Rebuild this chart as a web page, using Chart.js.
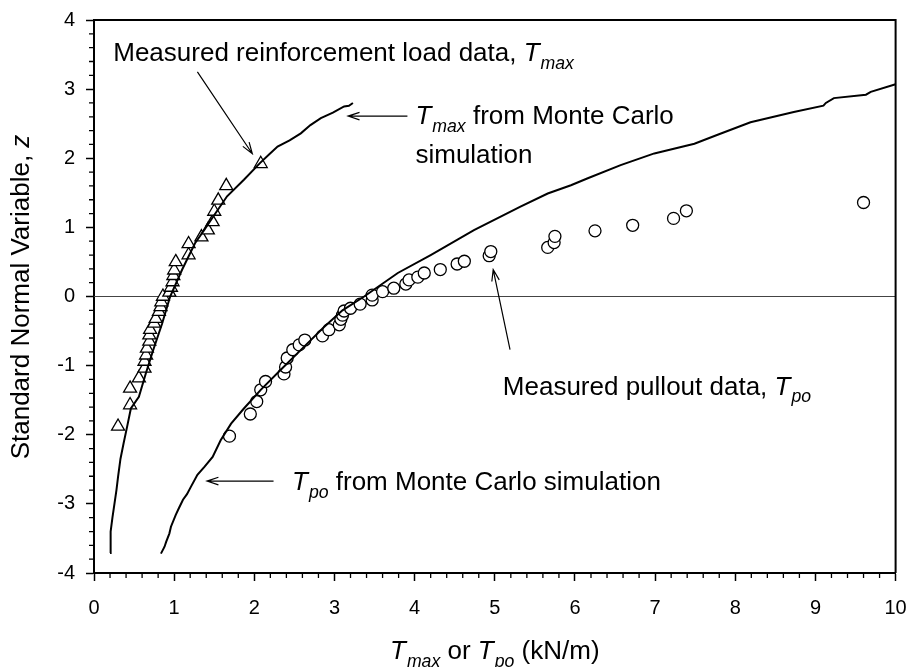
<!DOCTYPE html>
<html>
<head>
<meta charset="utf-8">
<script src="https://cdn.jsdelivr.net/npm/chart.js@4"></script>
<style>
  html, body { margin: 0; padding: 0; background: #fff; }
</style>
</head>
<body>
<canvas id="chart" width="909" height="667"></canvas>
<script>
// Data

// measured reinforcement loads (triangles)
const tmaxMeasX = [0.30, 0.45, 0.45, 0.56, 0.63, 0.63, 0.65, 0.66, 0.69, 0.69, 0.70, 0.75, 0.77, 0.81, 0.83, 0.84,
  0.86, 0.94, 0.96, 0.98, 0.99, 1.00, 1.02, 1.18, 1.18, 1.34, 1.42, 1.48, 1.50, 1.55, 1.65, 2.08];
const tmaxMeasZ = [-1.88, -1.57, -1.33, -1.18, -1.04, -0.94, -0.85, -0.75, -0.65, -0.56, -0.48, -0.39, -0.32, -0.22, -0.15, -0.08,
  0.00, 0.06, 0.13, 0.21, 0.30, 0.38, 0.50, 0.60, 0.76, 0.86, 0.96, 1.08, 1.23, 1.39, 1.60, 1.92];

// measured pullout (circles)
const tpoMeasX = [1.69, 1.95, 2.03, 2.08, 2.14, 2.37, 2.39, 2.41, 2.48, 2.56, 2.63, 2.85, 2.93, 3.06, 3.08, 3.10, 3.12, 3.20,
  3.32, 3.47, 3.47, 3.60, 3.74, 3.89, 3.93, 4.04, 4.12, 4.32, 4.53, 4.62, 4.93, 4.95, 5.66, 5.74, 5.75, 6.25, 6.72, 7.23, 7.39, 9.60];
const tpoMeasZ = [-2.02, -1.70, -1.52, -1.35, -1.23, -1.12, -1.02, -0.89, -0.77, -0.70, -0.63, -0.57, -0.48, -0.41, -0.33, -0.27, -0.21, -0.17,
  -0.11, -0.05, 0.02, 0.07, 0.12, 0.18, 0.24, 0.28, 0.34, 0.39, 0.47, 0.51, 0.59, 0.65, 0.71, 0.78, 0.87, 0.95, 1.03, 1.13, 1.24, 1.36];

// Monte Carlo Tmax curve
const tmaxSimX = [0.20, 0.205, 0.21, 0.23, 0.25, 0.28, 0.30, 0.33, 0.37, 0.41, 0.46, 0.56, 0.65, 0.74, 0.85, 0.95,
  1.10, 1.26, 1.38, 1.49, 1.66, 1.87, 2.07, 2.18, 2.29, 2.44, 2.58, 2.70, 2.83, 2.98, 3.12, 3.18, 3.23];
const tmaxSimZ = [-3.71, -3.55, -3.40, -3.20, -3.04, -2.80, -2.61, -2.35, -2.12, -1.90, -1.62, -1.45, -1.10, -0.77, -0.39, 0.00,
  0.39, 0.77, 0.97, 1.16, 1.45, 1.69, 1.93, 2.05, 2.17, 2.26, 2.36, 2.48, 2.58, 2.66, 2.75, 2.76, 2.80];

// Monte Carlo Tpo curve
const tpoSimX = [0.835, 0.88, 0.90, 0.94, 0.96, 1.02, 1.06, 1.11, 1.16, 1.21, 1.29, 1.38, 1.48, 1.58, 1.71, 1.87, 2.08,
  2.33, 2.60, 2.87, 3.10, 3.37, 3.79, 4.20, 4.74, 5.32, 5.66, 5.95, 6.16, 6.57, 6.99, 7.49, 7.78, 8.19, 8.73, 9.10,
  9.13, 9.23, 9.63, 9.69, 10.0];
const tpoSimZ = [-3.72, -3.62, -3.55, -3.43, -3.33, -3.16, -3.06, -2.94, -2.86, -2.75, -2.58, -2.46, -2.32, -2.08, -1.84, -1.62, -1.35,
  -1.06, -0.75, -0.44, -0.20, 0.00, 0.34, 0.60, 0.96, 1.30, 1.49, 1.61, 1.71, 1.90, 2.07, 2.21, 2.34, 2.52, 2.67, 2.76,
  2.80, 2.87, 2.92, 2.96, 3.07];

const xRange = [0, 10];
const zRange = [-4, 4];

// Setup

const FONT = '"Liberation Sans", Arial, sans-serif';
const TEXT_SIZE = 26;

function pts(xs, zs) {
  return xs.map((x, i) => ({ x: x, y: zs[i] }));
}

// rich text: parts = [{t, it, sub}]
function richWidth(ctx, parts, size) {
  let w = 0;
  parts.forEach(p => {
    const s = p.sub ? size * 0.68 : size;
    ctx.font = (p.it ? 'italic ' : '') + s + 'px ' + FONT;
    w += ctx.measureText(p.t).width + (p.it && !p.sub ? 1 : 0);
  });
  return w;
}

function drawRich(ctx, x, y, parts, size) {
  let cx = x;
  parts.forEach(p => {
    const s = p.sub ? size * 0.68 : size;
    ctx.font = (p.it ? 'italic ' : '') + s + 'px ' + FONT;
    ctx.fillText(p.t, cx, y + (p.sub ? size * 0.3 : 0));
    cx += ctx.measureText(p.t).width + (p.it && !p.sub ? 1 : 0);
  });
}

function arrow(ctx, x1, y1, x2, y2) {
  const a = Math.atan2(y2 - y1, x2 - x1);
  const h = 12, s = 0.32;
  ctx.beginPath();
  ctx.moveTo(x1, y1);
  ctx.lineTo(x2, y2);
  ctx.moveTo(x2 - h * Math.cos(a - s), y2 - h * Math.sin(a - s));
  ctx.lineTo(x2, y2);
  ctx.lineTo(x2 - h * Math.cos(a + s), y2 - h * Math.sin(a + s));
  ctx.stroke();
}

// annotations, anchored in data units
const notes = [
  { x: 0.24, z: 3.40, parts: [{ t: 'Measured reinforcement load data, ' }, { t: 'T', it: true }, { t: 'max', it: true, sub: true }] },
  { x: 4.01, z: 2.49, parts: [{ t: 'T', it: true }, { t: 'max', it: true, sub: true }, { t: ' from Monte Carlo' }] },
  { x: 4.01, z: 1.93, parts: [{ t: 'simulation' }] },
  { x: 2.47, z: -2.80, parts: [{ t: 'T', it: true }, { t: 'po', it: true, sub: true }, { t: ' from Monte Carlo simulation' }] },
  { x: 5.10, z: -1.42, parts: [{ t: 'Measured pullout data, ' }, { t: 'T', it: true }, { t: 'po', it: true, sub: true }] },
];
const arrows = [
  [1.29, 3.25, 1.975, 2.065],
  [3.91, 2.61, 3.17, 2.61],
  [2.24, -2.67, 1.41, -2.67],
  [5.19, -0.77, 4.98, 0.39],
];

const extras = {
  id: 'extras',
  afterDraw(chart) {
    const ctx = chart.ctx;
    const a = chart.chartArea;
    const xs = chart.scales.x, ys = chart.scales.y;
    ctx.save();
    ctx.strokeStyle = '#000';
    ctx.fillStyle = '#000';

    // top and right frame
    ctx.lineWidth = 2;
    ctx.beginPath();
    ctx.moveTo(a.left, a.top);
    ctx.lineTo(a.right, a.top);
    ctx.lineTo(a.right, a.bottom);
    ctx.stroke();

    // minor ticks
    ctx.lineWidth = 1.3;
    ctx.beginPath();
    for (let i = 1; i < 50; i++) {
      if (i % 5 === 0) continue;
      const px = xs.getPixelForValue(i * 0.2);
      ctx.moveTo(px, a.bottom);
      ctx.lineTo(px, a.bottom + 5);
    }
    for (let i = 1; i < 40; i++) {
      if (i % 5 === 0) continue;
      const py = ys.getPixelForValue(-4 + i * 0.2);
      ctx.moveTo(a.left, py);
      ctx.lineTo(a.left - 5, py);
    }
    ctx.stroke();

    // arrows
    ctx.lineWidth = 1.2;
    arrows.forEach(r => {
      arrow(ctx, xs.getPixelForValue(r[0]), ys.getPixelForValue(r[1]),
        xs.getPixelForValue(r[2]), ys.getPixelForValue(r[3]));
    });

    // annotation text
    ctx.textAlign = 'left';
    ctx.textBaseline = 'alphabetic';
    notes.forEach(n => {
      drawRich(ctx, xs.getPixelForValue(n.x), ys.getPixelForValue(n.z), n.parts, TEXT_SIZE);
    });

    // x axis title
    const xt = [{ t: 'T', it: true }, { t: 'max', it: true, sub: true }, { t: ' or ' }, { t: 'T', it: true }, { t: 'po', it: true, sub: true }, { t: ' (kN/m)' }];
    const xw = richWidth(ctx, xt, TEXT_SIZE);
    drawRich(ctx, (a.left + a.right) / 2 - xw / 2, 659, xt, TEXT_SIZE);

    // y axis title
    const yt = [{ t: 'Standard Normal Variable, ' }, { t: 'z', it: true }];
    const yw = richWidth(ctx, yt, TEXT_SIZE);
    ctx.translate(29, (a.top + a.bottom) / 2);
    ctx.rotate(-Math.PI / 2);
    drawRich(ctx, -yw / 2, 0, yt, TEXT_SIZE);
    ctx.restore();
  }
};

// Configuration

const tickFont = { family: FONT, size: 20 };

const config = {
  type: 'scatter',
  data: {
    datasets: [
      {
        label: 'zero',
        data: [{ x: xRange[0], y: 0 }, { x: xRange[1], y: 0 }],
        showLine: true,
        borderColor: '#444',
        borderWidth: 1.2,
        pointRadius: 0,
        order: 3,
      },
      {
        label: 'Tmax measured',
        data: pts(tmaxMeasX, tmaxMeasZ),
        pointStyle: 'triangle',
        pointRadius: 7.5,
        backgroundColor: '#fff',
        borderColor: '#000',
        borderWidth: 1.3,
        order: 2,
      },
      {
        label: 'Tpo measured',
        data: pts(tpoMeasX, tpoMeasZ),
        pointStyle: 'circle',
        pointRadius: 6,
        backgroundColor: '#fff',
        borderColor: '#000',
        borderWidth: 1.3,
        order: 2,
      },
      {
        label: 'Tmax Monte Carlo',
        data: pts(tmaxSimX, tmaxSimZ),
        showLine: true,
        borderColor: '#000',
        borderWidth: 2,
        pointRadius: 0,
        tension: 0,
        order: 1,
      },
      {
        label: 'Tpo Monte Carlo',
        data: pts(tpoSimX, tpoSimZ),
        showLine: true,
        borderColor: '#000',
        borderWidth: 2,
        pointRadius: 0,
        tension: 0,
        order: 1,
      },
    ],
  },
  options: {
    responsive: false,
    animation: false,
    devicePixelRatio: 1,
    layout: { padding: 0 },
    plugins: {
      legend: { display: false },
      tooltip: { enabled: false },
    },
    scales: {
      x: {
        type: 'linear',
        min: xRange[0],
        max: xRange[1],
        ticks: { stepSize: 1, font: tickFont, color: '#000', padding: 15, maxRotation: 0 },
        grid: { drawOnChartArea: false, tickLength: 8, tickColor: '#000', tickWidth: 1.5 },
        border: { color: '#000', width: 2 },
        afterFit: s => { s.height = 94; s.paddingLeft = 0; s.paddingRight = 13.4; },
      },
      y: {
        type: 'linear',
        min: zRange[0],
        max: zRange[1],
        ticks: { stepSize: 1, font: tickFont, color: '#000', padding: 11 },
        grid: { drawOnChartArea: false, tickLength: 8, tickColor: '#000', tickWidth: 1.5 },
        border: { color: '#000', width: 2 },
        afterFit: s => { s.width = 94; s.paddingTop = 20; s.paddingBottom = 0; },
      },
    },
  },
  plugins: [extras],
};

new Chart(document.getElementById('chart'), config);
</script>
</body>
</html>
